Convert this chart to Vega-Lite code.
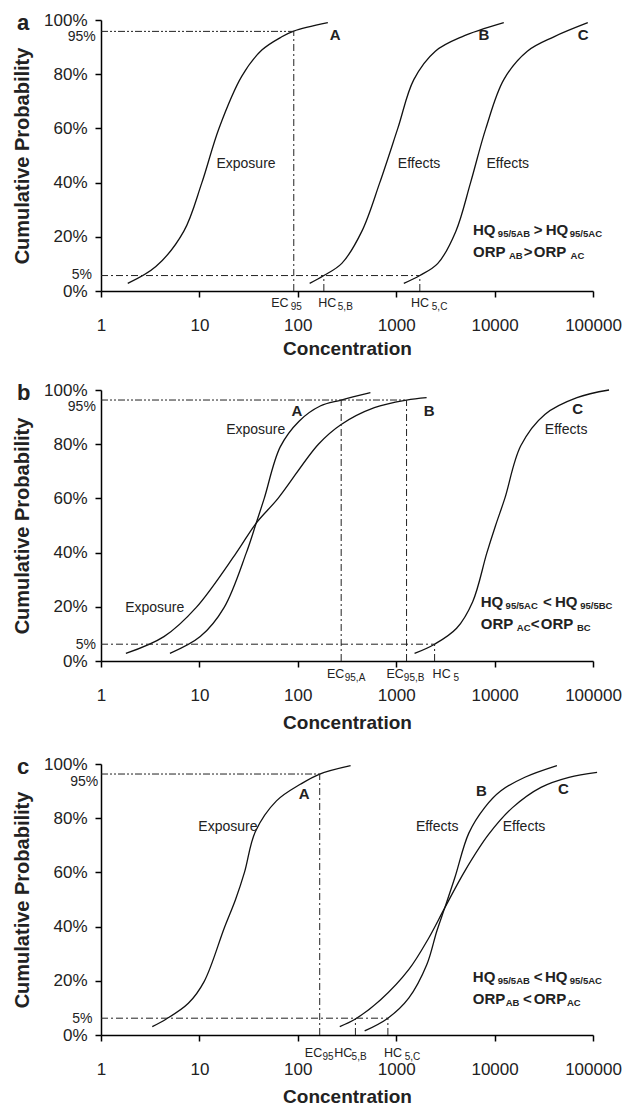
{
  "$schema": "https://vega.github.io/schema/vega-lite/v6.json",
  "padding": {"top": 11, "left": 12, "right": 2, "bottom": 2},
  "spacing": 23,
  "config": {
    "view": {"stroke": null},
    "axis": {"grid": false, "domainColor": "#000", "domainWidth": 1.5, "tickColor": "#000", "tickWidth": 1.5, "tickSize": 6, "labelColor": "#222", "titleColor": "#222", "labelFont": "Liberation Sans", "labelFontSize": 17, "labelFlush": false, "titleFont": "Liberation Sans", "titleFontWeight": "bold"},
    "text": {"color": "#222", "align": "left", "baseline": "middle", "font": "Liberation Sans"},
    "line": {"color": "#111", "strokeWidth": 1.3, "interpolate": "catmull-rom"},
    "rule": {"color": "#222", "strokeWidth": 1}
  },
  "datasets": {
    "d": [
      {"panel":"a","g":"curve","s":"A","x":1.87,"y":0.028},{"panel":"a","g":"curve","s":"A","x":3.61,"y":0.09},{"panel":"a","g":"curve","s":"A","x":6.93,"y":0.22},{"panel":"a","g":"curve","s":"A","x":10.6,"y":0.40},{"panel":"a","g":"curve","s":"A","x":15.8,"y":0.60},{"panel":"a","g":"curve","s":"A","x":27.0,"y":0.793},{"panel":"a","g":"curve","s":"A","x":43.1,"y":0.889},{"panel":"a","g":"curve","s":"A","x":68.7,"y":0.938},{"panel":"a","g":"curve","s":"A","x":91,"y":0.959},{"panel":"a","g":"curve","s":"A","x":202,"y":0.99},
      {"panel":"a","g":"curve","s":"B","x":132,"y":0.028},{"panel":"a","g":"curve","s":"B","x":184,"y":0.057},{"panel":"a","g":"curve","s":"B","x":280,"y":0.102},{"panel":"a","g":"curve","s":"B","x":447,"y":0.22},{"panel":"a","g":"curve","s":"B","x":681,"y":0.40},{"panel":"a","g":"curve","s":"B","x":1038,"y":0.60},{"panel":"a","g":"curve","s":"B","x":1510,"y":0.78},{"panel":"a","g":"curve","s":"B","x":2500,"y":0.885},{"panel":"a","g":"curve","s":"B","x":4640,"y":0.938},{"panel":"a","g":"curve","s":"B","x":12400,"y":0.99},
      {"panel":"a","g":"curve","s":"C","x":1195,"y":0.028},{"panel":"a","g":"curve","s":"C","x":1738,"y":0.057},{"panel":"a","g":"curve","s":"C","x":2650,"y":0.102},{"panel":"a","g":"curve","s":"C","x":4033,"y":0.22},{"panel":"a","g":"curve","s":"C","x":5700,"y":0.40},{"panel":"a","g":"curve","s":"C","x":8150,"y":0.60},{"panel":"a","g":"curve","s":"C","x":12400,"y":0.78},{"panel":"a","g":"curve","s":"C","x":21500,"y":0.885},{"panel":"a","g":"curve","s":"C","x":40000,"y":0.938},{"panel":"a","g":"curve","s":"C","x":88500,"y":0.99},
      {"panel":"a","g":"ref","s":"dd","x":1,"x2":91,"y":0.958,"y2":0.958},
      {"panel":"a","g":"ref","s":"d","x":91,"x2":91,"y":0,"y2":0.958},
      {"panel":"a","g":"ref","s":"d","x":1,"x2":1738,"y":0.057,"y2":0.057},
      {"panel":"a","g":"ref","s":"d","x":184,"x2":184,"y":0,"y2":0.057},
      {"panel":"a","g":"ref","s":"d","x":1738,"x2":1738,"y":0,"y2":0.057},
      {"panel":"a","g":"b22","x":0.14,"y":0.99,"t":"a"},
      {"panel":"a","g":"b15","x":211,"y":0.945,"t":"A"},{"panel":"a","g":"b15","x":6870,"y":0.945,"t":"B"},{"panel":"a","g":"b15","x":70100,"y":0.945,"t":"C"},
      {"panel":"a","g":"b15","x":6030,"y":0.225,"t":"HQ"},{"panel":"a","g":"b15","x":25000,"y":0.225,"t":">"},{"panel":"a","g":"b15","x":33100,"y":0.225,"t":"HQ"},
      {"panel":"a","g":"b15","x":6030,"y":0.145,"t":"ORP"},{"panel":"a","g":"b15","x":19800,"y":0.145,"t":">"},{"panel":"a","g":"b15","x":25000,"y":0.145,"t":"ORP"},
      {"panel":"a","g":"bsub","x":10790,"y":0.225,"t":"95/5AB"},{"panel":"a","g":"bsub","x":58100,"y":0.225,"t":"95/5AC"},{"panel":"a","g":"bsub","x":14000,"y":0.145,"t":"AB"},{"panel":"a","g":"bsub","x":59200,"y":0.145,"t":"AC"},
      {"panel":"a","g":"r14","x":14.9,"y":0.467,"t":"Exposure"},{"panel":"a","g":"r14","x":1038,"y":0.467,"t":"Effects"},{"panel":"a","g":"r14","x":8280,"y":0.467,"t":"Effects"},
      {"panel":"a","g":"r14","x":0.459,"y":0.938,"t":"95%"},{"panel":"a","g":"r14","x":0.504,"y":0.059,"t":"5%"},
      {"panel":"a","g":"rlab","x":53.7,"y":-0.043,"t":"EC"},{"panel":"a","g":"rlab","x":161.5,"y":-0.043,"t":"HC"},{"panel":"a","g":"rlab","x":1416,"y":-0.043,"t":"HC"},
      {"panel":"a","g":"rsub","x":84.9,"y":-0.043,"t":"95"},{"panel":"a","g":"rsub","x":255,"y":-0.043,"t":"5,B"},{"panel":"a","g":"rsub","x":2300,"y":-0.043,"t":"5,C"},

      {"panel":"b","g":"curve","s":"A","x":5.02,"y":0.028},{"panel":"b","g":"curve","s":"A","x":10.2,"y":0.09},{"panel":"b","g":"curve","s":"A","x":17.8,"y":0.197},{"panel":"b","g":"curve","s":"A","x":29.9,"y":0.398},{"panel":"b","g":"curve","s":"A","x":37.8,"y":0.509},{"panel":"b","g":"curve","s":"A","x":45.6,"y":0.60},{"panel":"b","g":"curve","s":"A","x":66.3,"y":0.79},{"panel":"b","g":"curve","s":"A","x":103,"y":0.885},{"panel":"b","g":"curve","s":"A","x":169,"y":0.941},{"panel":"b","g":"curve","s":"A","x":276,"y":0.963},{"panel":"b","g":"curve","s":"A","x":547,"y":0.99},
      {"panel":"b","g":"curve","s":"B","x":1.79,"y":0.028},{"panel":"b","g":"curve","s":"B","x":4.36,"y":0.09},{"panel":"b","g":"curve","s":"B","x":9.25,"y":0.197},{"panel":"b","g":"curve","s":"B","x":23.6,"y":0.398},{"panel":"b","g":"curve","s":"B","x":37.8,"y":0.509},{"panel":"b","g":"curve","s":"B","x":63,"y":0.60},{"panel":"b","g":"curve","s":"B","x":162,"y":0.80},{"panel":"b","g":"curve","s":"B","x":276,"y":0.873},{"panel":"b","g":"curve","s":"B","x":600,"y":0.935},{"panel":"b","g":"curve","s":"B","x":1274,"y":0.963},{"panel":"b","g":"curve","s":"B","x":2037,"y":0.972},
      {"panel":"b","g":"curve","s":"C","x":1537,"y":0.028},{"panel":"b","g":"curve","s":"C","x":2456,"y":0.062},{"panel":"b","g":"curve","s":"C","x":4110,"y":0.121},{"panel":"b","g":"curve","s":"C","x":5990,"y":0.219},{"panel":"b","g":"curve","s":"C","x":8330,"y":0.398},{"panel":"b","g":"curve","s":"C","x":10230,"y":0.50},{"panel":"b","g":"curve","s":"C","x":12700,"y":0.60},{"panel":"b","g":"curve","s":"C","x":18500,"y":0.795},{"panel":"b","g":"curve","s":"C","x":32400,"y":0.91},{"panel":"b","g":"curve","s":"C","x":68700,"y":0.972},{"panel":"b","g":"curve","s":"C","x":145500,"y":1.0},
      {"panel":"b","g":"ref","s":"dd","x":1,"x2":1274,"y":0.963,"y2":0.963},
      {"panel":"b","g":"ref","s":"d","x":276,"x2":276,"y":0,"y2":0.963},
      {"panel":"b","g":"ref","s":"d","x":1274,"x2":1274,"y":0,"y2":0.963},
      {"panel":"b","g":"ref","s":"d","x":1,"x2":2456,"y":0.062,"y2":0.062},
      {"panel":"b","g":"ref","s":"d","x":2456,"x2":2456,"y":0,"y2":0.062},
      {"panel":"b","g":"b22","x":0.14,"y":0.99,"t":"b"},
      {"panel":"b","g":"b15","x":86.2,"y":0.922,"t":"A"},{"panel":"b","g":"b15","x":1906,"y":0.922,"t":"B"},{"panel":"b","g":"b15","x":61400,"y":0.929,"t":"C"},
      {"panel":"b","g":"b15","x":7230,"y":0.217,"t":"HQ"},{"panel":"b","g":"b15","x":30970,"y":0.217,"t":"<"},{"panel":"b","g":"b15","x":41000,"y":0.217,"t":"HQ"},
      {"panel":"b","g":"b15","x":7230,"y":0.136,"t":"ORP"},{"panel":"b","g":"b15","x":23350,"y":0.136,"t":"<"},{"panel":"b","g":"b15","x":29510,"y":0.136,"t":"ORP"},
      {"panel":"b","g":"bsub","x":12940,"y":0.217,"t":"95/5AC"},{"panel":"b","g":"bsub","x":74100,"y":0.217,"t":"95/5BC"},{"panel":"b","g":"bsub","x":16830,"y":0.136,"t":"AC"},{"panel":"b","g":"bsub","x":68700,"y":0.136,"t":"BC"},
      {"panel":"b","g":"r14","x":18.7,"y":0.851,"t":"Exposure"},{"panel":"b","g":"r14","x":1.76,"y":0.197,"t":"Exposure"},{"panel":"b","g":"r14","x":32400,"y":0.851,"t":"Effects"},
      {"panel":"b","g":"r14","x":0.46,"y":0.936,"t":"95%"},{"panel":"b","g":"r14","x":0.553,"y":0.059,"t":"5%"},
      {"panel":"b","g":"rlab","x":198,"y":-0.048,"t":"EC"},{"panel":"b","g":"rlab","x":797,"y":-0.048,"t":"EC"},{"panel":"b","g":"rlab","x":2345,"y":-0.048,"t":"HC"},
      {"panel":"b","g":"rsub","x":300,"y":-0.048,"t":"95,A"},{"panel":"b","g":"rsub","x":1196,"y":-0.048,"t":"95,B"},{"panel":"b","g":"rsub","x":3820,"y":-0.048,"t":"5"},

      {"panel":"c","g":"curve","s":"A","x":3.32,"y":0.031},{"panel":"c","g":"curve","s":"A","x":4.61,"y":0.059},{"panel":"c","g":"curve","s":"A","x":7.72,"y":0.117},{"panel":"c","g":"curve","s":"A","x":11.2,"y":0.198},{"panel":"c","g":"curve","s":"A","x":17.9,"y":0.395},{"panel":"c","g":"curve","s":"A","x":23.3,"y":0.50},{"panel":"c","g":"curve","s":"A","x":28.7,"y":0.60},{"panel":"c","g":"curve","s":"A","x":37,"y":0.75},{"panel":"c","g":"curve","s":"A","x":60.7,"y":0.864},{"panel":"c","g":"curve","s":"A","x":107,"y":0.926},{"panel":"c","g":"curve","s":"A","x":167,"y":0.963},{"panel":"c","g":"curve","s":"A","x":344,"y":0.994},
      {"panel":"c","g":"curve","s":"S","x":267,"y":0.031},{"panel":"c","g":"curve","s":"S","x":385,"y":0.059},{"panel":"c","g":"curve","s":"S","x":695,"y":0.13},{"panel":"c","g":"curve","s":"S","x":1340,"y":0.241},{"panel":"c","g":"curve","s":"S","x":2143,"y":0.358},{"panel":"c","g":"curve","s":"S","x":3114,"y":0.469},{"panel":"c","g":"curve","s":"S","x":4980,"y":0.605},{"panel":"c","g":"curve","s":"S","x":8730,"y":0.741},{"panel":"c","g":"curve","s":"S","x":15300,"y":0.84},{"panel":"c","g":"curve","s":"S","x":29600,"y":0.914},{"panel":"c","g":"curve","s":"S","x":57000,"y":0.951},{"panel":"c","g":"curve","s":"S","x":110000,"y":0.969},
      {"panel":"c","g":"curve","s":"T","x":478,"y":0.015},{"panel":"c","g":"curve","s":"T","x":823,"y":0.062},{"panel":"c","g":"curve","s":"T","x":1340,"y":0.136},{"panel":"c","g":"curve","s":"T","x":2043,"y":0.259},{"panel":"c","g":"curve","s":"T","x":2584,"y":0.383},{"panel":"c","g":"curve","s":"T","x":3114,"y":0.469},{"panel":"c","g":"curve","s":"T","x":3940,"y":0.58},{"panel":"c","g":"curve","s":"T","x":5470,"y":0.745},{"panel":"c","g":"curve","s":"T","x":7960,"y":0.84},{"panel":"c","g":"curve","s":"T","x":11600,"y":0.901},{"panel":"c","g":"curve","s":"T","x":20300,"y":0.951},{"panel":"c","g":"curve","s":"T","x":43000,"y":0.994},
      {"panel":"c","g":"ref","s":"dd","x":1,"x2":167,"y":0.963,"y2":0.963},
      {"panel":"c","g":"ref","s":"d","x":167,"x2":167,"y":0,"y2":0.963},
      {"panel":"c","g":"ref","s":"d","x":1,"x2":823,"y":0.062,"y2":0.062},
      {"panel":"c","g":"ref","s":"d","x":385,"x2":385,"y":0,"y2":0.062},
      {"panel":"c","g":"ref","s":"d","x":823,"x2":823,"y":0,"y2":0.062},
      {"panel":"c","g":"b22","x":0.14,"y":0.99,"t":"c"},
      {"panel":"c","g":"b15","x":102,"y":0.889,"t":"A"},{"panel":"c","g":"b15","x":6470,"y":0.901,"t":"B"},{"panel":"c","g":"b15","x":44200,"y":0.907,"t":"C"},
      {"panel":"c","g":"b15","x":6010,"y":0.215,"t":"HQ"},{"panel":"c","g":"b15","x":24950,"y":0.215,"t":"<"},{"panel":"c","g":"b15","x":32450,"y":0.215,"t":"HQ"},
      {"panel":"c","g":"b15","x":6010,"y":0.132,"t":"ORP"},{"panel":"c","g":"b15","x":19380,"y":0.132,"t":"<"},{"panel":"c","g":"b15","x":24950,"y":0.132,"t":"ORP"},
      {"panel":"c","g":"bsub","x":10740,"y":0.215,"t":"95/5AB"},{"panel":"c","g":"bsub","x":58070,"y":0.215,"t":"95/5AC"},{"panel":"c","g":"bsub","x":12950,"y":0.132,"t":"AB"},{"panel":"c","g":"bsub","x":54330,"y":0.132,"t":"AC"},
      {"panel":"c","g":"r14","x":9.76,"y":0.769,"t":"Exposure"},{"panel":"c","g":"r14","x":1585,"y":0.769,"t":"Effects"},{"panel":"c","g":"r14","x":12100,"y":0.769,"t":"Effects"},
      {"panel":"c","g":"r14","x":0.487,"y":0.934,"t":"95%"},{"panel":"c","g":"r14","x":0.509,"y":0.059,"t":"5%"},
      {"panel":"c","g":"rlab","x":118,"y":-0.065,"t":"EC"},{"panel":"c","g":"rlab","x":235,"y":-0.065,"t":"HC"},{"panel":"c","g":"rlab","x":750,"y":-0.065,"t":"HC"},
      {"panel":"c","g":"rsub","x":178.5,"y":-0.065,"t":"95"},{"panel":"c","g":"rsub","x":352,"y":-0.065,"t":"5,B"},{"panel":"c","g":"rsub","x":1219,"y":-0.065,"t":"5,C"}
    ]
  },
  "vconcat": [
    {
      "width": 492, "height": 271,
      "data": {"name": "d"},
      "transform": [{"filter": "datum.panel === 'a'"}],
      "encoding": {
        "x": {"field": "x", "type": "quantitative", "scale": {"type": "log", "domain": [1, 100000]}, "axis": {"values": [1, 10, 100, 1000, 10000, 100000], "format": "d", "labelPadding": 20, "title": "Concentration", "titleFontSize": 19, "titlePadding": 6}},
        "y": {"field": "y", "type": "quantitative", "scale": {"domain": [0, 1], "nice": false}, "axis": {"values": [0, 0.2, 0.4, 0.6, 0.8, 1], "format": ".0%", "labelPadding": 8, "title": "Cumulative Probability", "titleFontSize": 20, "titlePadding": 11}}
      },
      "layer": [
        {"transform": [{"filter": "datum.g === 'curve'"}], "mark": {"type": "line"}, "encoding": {"detail": {"field": "s", "type": "nominal"}}},
        {"transform": [{"filter": "datum.g === 'ref'"}], "mark": {"type": "rule"}, "encoding": {"x2": {"field": "x2"}, "y2": {"field": "y2"}, "strokeDash": {"field": "s", "type": "nominal", "scale": {"domain": ["d", "dd"], "range": [[7, 3, 2, 3], [7, 2, 2, 2, 2, 2]]}, "legend": null}}},
        {"transform": [{"filter": "datum.g === 'b22'"}], "mark": {"type": "text", "fontWeight": "bold", "fontSize": 22}, "encoding": {"text": {"field": "t"}}},
        {"transform": [{"filter": "datum.g === 'b15'"}], "mark": {"type": "text", "fontWeight": "bold", "fontSize": 15}, "encoding": {"text": {"field": "t"}}},
        {"transform": [{"filter": "datum.g === 'bsub'"}], "mark": {"type": "text", "fontWeight": "bold", "fontSize": 9.5, "dy": 4}, "encoding": {"text": {"field": "t"}}},
        {"transform": [{"filter": "datum.g === 'r14'"}], "mark": {"type": "text", "fontSize": 14}, "encoding": {"text": {"field": "t"}}},
        {"transform": [{"filter": "datum.g === 'rlab'"}], "mark": {"type": "text", "fontSize": 12.5}, "encoding": {"text": {"field": "t"}}},
        {"transform": [{"filter": "datum.g === 'rsub'"}], "mark": {"type": "text", "fontSize": 10, "dy": 4}, "encoding": {"text": {"field": "t"}}}
      ]
    },
    {
      "width": 492, "height": 271,
      "data": {"name": "d"},
      "transform": [{"filter": "datum.panel === 'b'"}],
      "encoding": {
        "x": {"field": "x", "type": "quantitative", "scale": {"type": "log", "domain": [1, 100000]}, "axis": {"values": [1, 10, 100, 1000, 10000, 100000], "format": "d", "labelPadding": 20, "title": "Concentration", "titleFontSize": 19, "titlePadding": 10}},
        "y": {"field": "y", "type": "quantitative", "scale": {"domain": [0, 1], "nice": false}, "axis": {"values": [0, 0.2, 0.4, 0.6, 0.8, 1], "format": ".0%", "labelPadding": 8, "title": "Cumulative Probability", "titleFontSize": 20, "titlePadding": 11}}
      },
      "layer": [
        {"transform": [{"filter": "datum.g === 'curve'"}], "mark": {"type": "line"}, "encoding": {"detail": {"field": "s", "type": "nominal"}}},
        {"transform": [{"filter": "datum.g === 'ref'"}], "mark": {"type": "rule"}, "encoding": {"x2": {"field": "x2"}, "y2": {"field": "y2"}, "strokeDash": {"field": "s", "type": "nominal", "scale": {"domain": ["d", "dd"], "range": [[7, 3, 2, 3], [7, 2, 2, 2, 2, 2]]}, "legend": null}}},
        {"transform": [{"filter": "datum.g === 'b22'"}], "mark": {"type": "text", "fontWeight": "bold", "fontSize": 22}, "encoding": {"text": {"field": "t"}}},
        {"transform": [{"filter": "datum.g === 'b15'"}], "mark": {"type": "text", "fontWeight": "bold", "fontSize": 15}, "encoding": {"text": {"field": "t"}}},
        {"transform": [{"filter": "datum.g === 'bsub'"}], "mark": {"type": "text", "fontWeight": "bold", "fontSize": 9.5, "dy": 4}, "encoding": {"text": {"field": "t"}}},
        {"transform": [{"filter": "datum.g === 'r14'"}], "mark": {"type": "text", "fontSize": 14}, "encoding": {"text": {"field": "t"}}},
        {"transform": [{"filter": "datum.g === 'rlab'"}], "mark": {"type": "text", "fontSize": 12.5}, "encoding": {"text": {"field": "t"}}},
        {"transform": [{"filter": "datum.g === 'rsub'"}], "mark": {"type": "text", "fontSize": 10, "dy": 4}, "encoding": {"text": {"field": "t"}}}
      ]
    },
    {
      "width": 492, "height": 271,
      "data": {"name": "d"},
      "transform": [{"filter": "datum.panel === 'c'"}],
      "encoding": {
        "x": {"field": "x", "type": "quantitative", "scale": {"type": "log", "domain": [1, 100000]}, "axis": {"values": [1, 10, 100, 1000, 10000, 100000], "format": "d", "labelPadding": 20, "title": "Concentration", "titleFontSize": 19, "titlePadding": 10}},
        "y": {"field": "y", "type": "quantitative", "scale": {"domain": [0, 1], "nice": false}, "axis": {"values": [0, 0.2, 0.4, 0.6, 0.8, 1], "format": ".0%", "labelPadding": 8, "title": "Cumulative Probability", "titleFontSize": 20, "titlePadding": 11}}
      },
      "layer": [
        {"transform": [{"filter": "datum.g === 'curve'"}], "mark": {"type": "line"}, "encoding": {"detail": {"field": "s", "type": "nominal"}}},
        {"transform": [{"filter": "datum.g === 'ref'"}], "mark": {"type": "rule"}, "encoding": {"x2": {"field": "x2"}, "y2": {"field": "y2"}, "strokeDash": {"field": "s", "type": "nominal", "scale": {"domain": ["d", "dd"], "range": [[7, 3, 2, 3], [7, 2, 2, 2, 2, 2]]}, "legend": null}}},
        {"transform": [{"filter": "datum.g === 'b22'"}], "mark": {"type": "text", "fontWeight": "bold", "fontSize": 22}, "encoding": {"text": {"field": "t"}}},
        {"transform": [{"filter": "datum.g === 'b15'"}], "mark": {"type": "text", "fontWeight": "bold", "fontSize": 15}, "encoding": {"text": {"field": "t"}}},
        {"transform": [{"filter": "datum.g === 'bsub'"}], "mark": {"type": "text", "fontWeight": "bold", "fontSize": 9.5, "dy": 4}, "encoding": {"text": {"field": "t"}}},
        {"transform": [{"filter": "datum.g === 'r14'"}], "mark": {"type": "text", "fontSize": 14}, "encoding": {"text": {"field": "t"}}},
        {"transform": [{"filter": "datum.g === 'rlab'"}], "mark": {"type": "text", "fontSize": 12.5}, "encoding": {"text": {"field": "t"}}},
        {"transform": [{"filter": "datum.g === 'rsub'"}], "mark": {"type": "text", "fontSize": 10, "dy": 4}, "encoding": {"text": {"field": "t"}}}
      ]
    }
  ]
}
